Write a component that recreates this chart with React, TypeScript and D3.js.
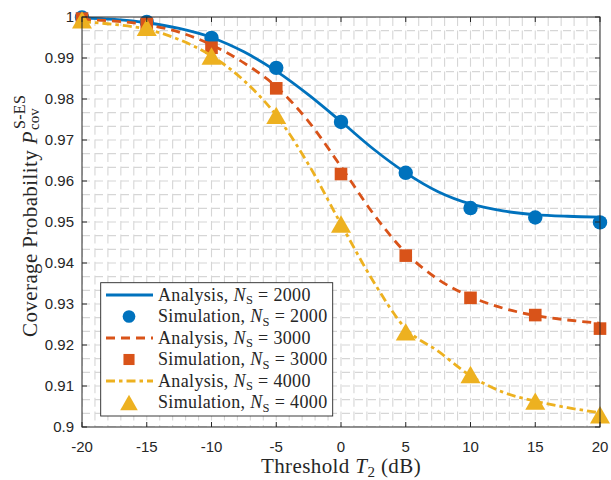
import React from "react";
import * as d3 from "d3";

const xTicks = [-20, -15, -10, -5, 0, 5, 10, 15, 20];
const yTicks = [0.9, 0.91, 0.92, 0.93, 0.94, 0.95, 0.96, 0.97, 0.98, 0.99, 1];
const yTickLabels = ["0.9", "0.91", "0.92", "0.93", "0.94", "0.95", "0.96", "0.97", "0.98", "0.99", "1"];

const xAnalysis = [-20, -17.5, -15, -12.5, -10, -7.5, -5, -2.5, 0, 2.5, 5, 7.5, 10, 12.5, 15, 17.5, 20];
const analysis2000 = [0.9998, 0.9994, 0.9986, 0.9972, 0.995, 0.9915, 0.9868, 0.981, 0.9745, 0.9678, 0.962, 0.9574, 0.9544, 0.9527, 0.9518, 0.9514, 0.9512];
const analysis3000 = [0.9994, 0.999, 0.9981, 0.9963, 0.9932, 0.9888, 0.983, 0.9745, 0.9635, 0.952, 0.9425, 0.936, 0.9318, 0.929, 0.9272, 0.9261, 0.9253];
const analysis4000 = [0.9988, 0.9982, 0.997, 0.9945, 0.9905, 0.9845, 0.976, 0.964, 0.9495, 0.9355, 0.924, 0.9185, 0.9125, 0.9085, 0.9063, 0.9047, 0.9035];

const xSim = [-20, -15, -10, -5, 0, 5, 10, 15, 20];
const sim2000 = [0.9999, 0.9988, 0.9949, 0.9876, 0.9744, 0.962, 0.9534, 0.9511, 0.9499];
const sim3000 = [0.9996, 0.9983, 0.9925, 0.9826, 0.9617, 0.9418, 0.9315, 0.9273, 0.924];
const sim4000 = [0.9993, 0.9975, 0.9905, 0.976, 0.9495, 0.9232, 0.9128, 0.9063, 0.903];

const legendNs = ["2000", "2000", "3000", "3000", "4000", "4000"];
const legendKinds = ["Analysis", "Simulation", "Analysis", "Simulation", "Analysis", "Simulation"];

const C1 = "#0072BD";
const C2 = "#D95319";
const C3 = "#EDB120";

const W = 611, H = 480;
const L = 82, R = 600, T = 17, B = 427;

export default function App() {
  const x = d3.scaleLinear().domain([-20, 20]).range([L, R]);
  const y = d3.scaleLinear().domain([0.9, 1]).range([B, T]);
  const line = d3
    .line<[number, number]>()
    .x((d) => x(d[0]))
    .y((d) => y(d[1]))
    .curve(d3.curveMonotoneX);

  const minorX = d3.range(-20, 20.001, 1);
  const minorY = d3.range(0, 31).map((i) => 0.9 + (i * 0.01) / 3);

  const series = [
    { a: analysis2000, s: sim2000, c: C1, dash: "none", m: "circle" },
    { a: analysis3000, s: sim3000, c: C2, dash: "9,6", m: "square" },
    { a: analysis4000, s: sim4000, c: C3, dash: "9,4,3.5,4", m: "triangle" },
  ];

  const marker = (kind: string, cx: number, cy: number, c: string, sc = 1, key?: any) => {
    if (kind === "circle") return <circle key={key} cx={cx} cy={cy} r={7.2 * sc} fill={c} />;
    if (kind === "square") {
      const s = 6.3 * sc;
      return <rect key={key} x={cx - s} y={cy - s} width={2 * s} height={2 * s} fill={c} />;
    }
    const w = 10 * sc, h = 8.7 * sc;
    return <path key={key} d={`M${cx},${cy - h}L${cx + w},${cy + h}L${cx - w},${cy + h}Z`} fill={c} />;
  };

  const serif = "'Liberation Serif', 'Times New Roman', serif";
  const sans = "'Liberation Sans', Arial, sans-serif";
  const axisC = "#262626";

  const legX = 100.7, legY = 282.7, legW = 232, legH = 133.3;
  const rowY = (i: number) => 295 + i * 21.5;

  return (
    <svg width={W} height={H} style={{ position: "absolute", left: 0, top: 0, background: "#fff" }}>
      <rect x={0} y={0} width={W} height={H} fill="#fff" />
      <defs>
        <clipPath id="plot">
          <rect x={L} y={T} width={R - L} height={B - T} />
        </clipPath>
      </defs>
      <g clipPath="url(#plot)">
        {minorX.map((v, i) => (
          <line key={"gx" + i} x1={x(v)} x2={x(v)} y1={T} y2={B} stroke="#d6d6d6" strokeWidth={1.1} strokeDasharray="9,4.6" />
        ))}
        {minorY.map((v, i) => (
          <line key={"gy" + i} x1={L} x2={R} y1={y(v)} y2={y(v)} stroke="#d6d6d6" strokeWidth={1.1} strokeDasharray="8,5" />
        ))}
      </g>
      {series.map((sr, i) => (
        <g key={"s" + i}>
          <path
            d={line(xAnalysis.map((v, j) => [v, sr.a[j]] as [number, number])) || ""}
            fill="none"
            stroke={sr.c}
            strokeWidth={2.8}
            strokeDasharray={sr.dash}
          />
          {xSim.map((v, j) => marker(sr.m, x(v), y(sr.s[j]), sr.c, 1, "m" + j))}
        </g>
      ))}
      <rect x={L} y={T} width={R - L} height={B - T} fill="none" stroke={axisC} strokeWidth={1} />
      {xTicks.map((v, i) => (
        <g key={"xt" + i}>
          <line x1={x(v)} x2={x(v)} y1={B} y2={B - 5} stroke={axisC} strokeWidth={1} />
          <line x1={x(v)} x2={x(v)} y1={T} y2={T + 5} stroke={axisC} strokeWidth={1} />
          <text x={x(v)} y={452} textAnchor="middle" fontFamily={sans} fontSize={15} fill={axisC}>
            {v}
          </text>
        </g>
      ))}
      {yTicks.map((v, i) => (
        <g key={"yt" + i}>
          <line x1={L} x2={L + 5} y1={y(v)} y2={y(v)} stroke={axisC} strokeWidth={1} />
          <line x1={R} x2={R - 5} y1={y(v)} y2={y(v)} stroke={axisC} strokeWidth={1} />
          <text x={74} y={y(v) + 5.3} textAnchor="end" fontFamily={sans} fontSize={15} fill={axisC}>
            {yTickLabels[i]}
          </text>
        </g>
      ))}
      <text x={(L + R) / 2} y={473} textAnchor="middle" fontFamily={serif} fontSize={21} letterSpacing={0.4} fill={axisC}>
        Threshold <tspan fontStyle="italic">T</tspan>
        <tspan fontSize={15} dy={4}>2</tspan>
        <tspan dy={-4}> (dB)</tspan>
      </text>
      <g transform="translate(36.5,222) rotate(-90)">
        <text x={91} y={0} textAnchor="end" fontFamily={serif} fontSize={21} letterSpacing={0.4} fill={axisC}>
          Coverage Probability <tspan fontStyle="italic">P</tspan>
        </text>
        <text x={93} y={-12} fontFamily={serif} fontSize={16} letterSpacing={0.3} fill={axisC}>S-ES</text>
        <text x={92} y={2.5} fontFamily={serif} fontSize={15} fill={axisC}>cov</text>
      </g>
      <rect x={legX} y={legY} width={legW} height={legH} fill="#fff" stroke={axisC} strokeWidth={0.9} />
      {legendKinds.map((k, i) => {
        const sr = series[Math.floor(i / 2)];
        const cy = rowY(i);
        return (
          <g key={"lg" + i}>
            {k === "Analysis" ? (
              <line x1={106} x2={153} y1={cy} y2={cy} stroke={sr.c} strokeWidth={2.8} strokeDasharray={sr.dash} />
            ) : (
              marker(sr.m, 129, cy, sr.c, 0.88)
            )}
            <text x={158} y={cy + 5.5} fontFamily={serif} fontSize={18} letterSpacing={0.35} fill={axisC}>
              {k}, <tspan fontStyle="italic">N</tspan>
              <tspan fontSize={12.5} dy={3.5}>S</tspan>
              <tspan dy={-3.5}> = {legendNs[i]}</tspan>
            </text>
          </g>
        );
      })}
    </svg>
  );
}
